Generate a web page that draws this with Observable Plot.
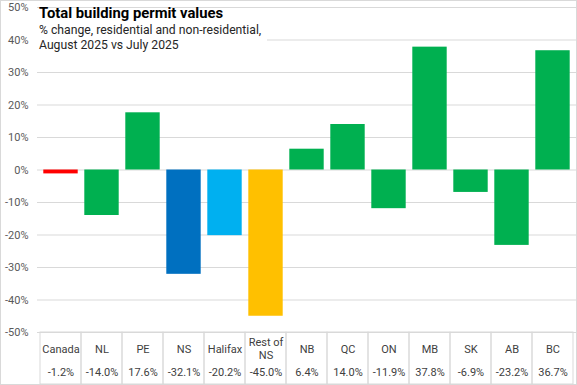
<!DOCTYPE html>
<html>
<head>
<meta charset="utf-8">
<script src="https://cdn.jsdelivr.net/npm/d3@7"></script>
<script src="https://cdn.jsdelivr.net/npm/@observablehq/plot@0.6"></script>
<style>
  html, body { margin: 0; padding: 0; background: #fff; }
  #wrap { position: relative; width: 577px; height: 385px; box-sizing: border-box; border: 1px solid #d9d9d9; background: #fff; font-family: Roboto, sans-serif; }
  #title { position: absolute; left: 37px; top: 4px; font-weight: bold; font-size: 14.8px; color: #000; line-height: 16px; white-space: nowrap; padding-left: 1px; }
  #sub { position: absolute; left: 36px; top: 22px; width: 228px; padding-left: 2px; background: #fff; font-size: 12.2px; color: #262626; line-height: 14.5px; white-space: nowrap; }
  svg { display: block; }
</style>
</head>
<body>
<div id="wrap">
  <div id="chart"></div>
  <div id="title">Total building permit values</div>
  <div id="sub">% change, residential and non-residential,<br>August 2025 vs July 2025</div>
</div>
<script>
const categories = ["Canada", "NL", "PE", "NS", "Halifax", "Rest of\nNS", "NB", "QC", "ON", "MB", "SK", "AB", "BC"];
const values = [-1.2, -14.0, 17.6, -32.1, -20.2, -45.0, 6.4, 14.0, -11.9, 37.8, -6.9, -23.2, 36.7];
const colors = ["#FF0000", "#00B050", "#00B050", "#0070C0", "#00B0F0", "#FFC000", "#00B050", "#00B050", "#00B050", "#00B050", "#00B050", "#00B050", "#00B050"];
const yTicks = [-50, -40, -30, -20, -10, 0, 10, 20, 30, 40, 50];

const data = categories.map((c, i) => ({cat: c, value: values[i], color: colors[i]}));

const chart = Plot.plot({
  width: 575,
  height: 383,
  marginLeft: 36,
  marginRight: 0,
  marginTop: 6,
  marginBottom: 52,
  style: {fontFamily: "Roboto, sans-serif", fontSize: "11px", color: "#595959", background: "#fff", overflow: "visible"},
  x: {domain: categories, padding: 0, axis: null},
  y: {domain: [-50, 50], ticks: yTicks, tickFormat: d => d + "%", tickSize: 0, tickPadding: 9, label: null, grid: false},
  marks: [
    Plot.ruleY(yTicks, {stroke: "#d9d9d9", strokeWidth: 1}),
    Plot.barY(data, {x: "cat", y: "value", fill: "color", insetLeft: 3.3, insetRight: 3.3}),
    Plot.barY(categories, {x: d => d, y1: -50, y2: -66, fill: "none", stroke: "#d9d9d9", strokeWidth: 1, clip: false}),
    Plot.text(data, {x: "cat", text: "cat", frameAnchor: "bottom", dy: 16, lineAnchor: "middle", lineHeight: 1.2, fontSize: 11, fill: "#404040"}),
    Plot.text(data, {x: "cat", text: d => d.value.toFixed(1) + "%", frameAnchor: "bottom", dy: 40, lineAnchor: "middle", fontSize: 11, fill: "#404040"})
  ]
});
document.getElementById("chart").appendChild(chart);
</script>
</body>
</html>
